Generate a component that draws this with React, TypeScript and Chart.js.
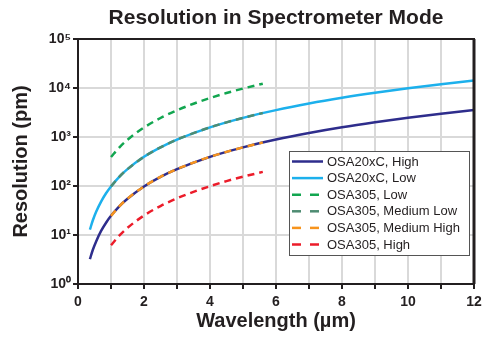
import React, { useEffect, useRef } from "react";
import { Chart, registerables } from "chart.js";

Chart.register(...registerables);

const titleText = "Resolution in Spectrometer Mode";
const xTitle = "Wavelength (µm)";
const yTitle = "Resolution (pm)";

const xTickValues = [0, 1, 2, 3, 4, 5, 6, 7, 8, 9, 10, 11, 12];
const yTickValues = [1, 10, 100, 1000, 10000, 100000];
const supDigits = ["⁰", "¹", "²", "³", "⁴", "⁵"];

// OSA20xC wavelengths (µm)
const w20 = [0.36, 0.45, 0.55, 0.7, 0.85, 1, 1.25, 1.5, 2, 2.5, 3, 4, 5, 6, 7, 8, 9, 10, 11, 12];
const osa20High = [3.2, 5.0, 7.4, 12.1, 17.8, 24.6, 38.4, 55, 98, 154, 221, 394, 615, 886, 1205, 1575, 1990, 2460, 2980, 3540];
const osa20Low = [12.8, 20, 29.8, 48, 71, 98, 154, 221, 394, 615, 886, 1575, 2460, 3540, 4820, 6300, 7970, 9840, 11900, 14170];

// OSA305 wavelengths (µm)
const w305 = [1, 1.25, 1.5, 2, 2.5, 3, 3.5, 4, 4.5, 5, 5.6];
const osa305Low = [390, 610, 878, 1560, 2440, 3510, 4780, 6240, 7900, 9750, 12230];
const osa305MedLow = [98, 154, 221, 394, 615, 886, 1200, 1575, 1990, 2460, 3090];
const osa305MedHigh = [24.6, 38.4, 55, 98, 154, 221, 301, 394, 498, 615, 771];
const osa305High = [6.2, 9.7, 14, 25, 39, 56, 76, 99, 126, 155, 194];

const seriesLabels = [
  "OSA20xC, High",
  "OSA20xC, Low",
  "OSA305, Low",
  "OSA305, Medium Low",
  "OSA305, Medium High",
  "OSA305, High",
];
const seriesColors = ["#2e2d8c", "#1cb0ec", "#12a650", "#4e8c72", "#f7941d", "#ec1c2a"];
const seriesDashed = [false, false, true, true, true, true];

const FONT = "'Liberation Sans', Arial, Helvetica, sans-serif";
const TEXT = "#231f20";

function pts(xs: number[], ys: number[]) {
  return xs.map((x, i) => ({ x, y: ys[i] }));
}

const framePlugin = {
  id: "frameAndLegend",
  afterDatasetsDraw(chart: any) {
    const { ctx, chartArea } = chart;
    const { left, right, top, bottom } = chartArea;
    ctx.save();
    ctx.strokeStyle = "#231f20";
    ctx.lineWidth = 2;
    ctx.setLineDash([]);
    ctx.strokeRect(left, top, right - left, bottom - top);
    ctx.lineWidth = 3;
    ctx.beginPath();
    ctx.moveTo(right, top);
    ctx.lineTo(right, bottom);
    ctx.stroke();

    // legend box
    const bx = 289, by = 151, bw = 180, bh = 104;
    ctx.fillStyle = "#ffffff";
    ctx.fillRect(bx, by, bw, bh);
    ctx.strokeStyle = "#555555";
    ctx.lineWidth = 1;
    ctx.strokeRect(bx + 0.5, by + 0.5, bw, bh);
    ctx.font = `13px ${FONT}`;
    ctx.textBaseline = "middle";
    ctx.textAlign = "left";
    chart.data.datasets.forEach((ds: any, i: number) => {
      const y = by + 10.5 + i * 16.6;
      const dashed = ds.borderDash && ds.borderDash.length;
      ctx.strokeStyle = ds.borderColor;
      ctx.lineWidth = 2.5;
      ctx.setLineDash(dashed ? [9, 9] : []);
      ctx.beginPath();
      ctx.moveTo(292, y);
      ctx.lineTo(dashed ? 319 : 323, y);
      ctx.stroke();
      ctx.setLineDash([]);
      ctx.fillStyle = TEXT;
      ctx.fillText(ds.label, 327, y + 0.5);
    });
    ctx.restore();
  },
};

export default function App() {
  const ref = useRef<HTMLCanvasElement | null>(null);
  useEffect(() => {
    if (!ref.current) return;
    const xsList = [w20, w20, w305, w305, w305, w305];
    const ysList = [osa20High, osa20Low, osa305Low, osa305MedLow, osa305MedHigh, osa305High];
    const datasets = seriesLabels.map((label, i) => ({
      label,
      data: pts(xsList[i], ysList[i]),
      borderColor: seriesColors[i],
      backgroundColor: seriesColors[i],
      borderWidth: 2.5,
      borderDash: seriesDashed[i] ? [7, 5] : [],
      pointRadius: 0,
      fill: false,
      cubicInterpolationMode: "monotone" as const,
      order: seriesDashed[i] ? 0 : 1,
    }));
    const chart = new Chart(ref.current, {
      type: "line",
      data: { datasets },
      options: {
        animation: false,
        responsive: false,
        devicePixelRatio: 1,
        layout: { padding: { left: 0, right: 10, top: 0, bottom: 0 } },
        plugins: {
          legend: { display: false },
          tooltip: { enabled: false },
          title: {
            display: true,
            text: titleText,
            fullSize: false,
            color: TEXT,
            font: { family: FONT, size: 21, weight: "bold", lineHeight: 1.2 },
            padding: { top: 5.5, bottom: 8.3 },
          },
        },
        scales: {
          x: {
            type: "linear",
            min: 0,
            max: 12,
            afterBuildTicks: (scale: any) => {
              scale.ticks = xTickValues.map((v) => ({ value: v }));
            },
            afterFit: (scale: any) => {
              scale.height = 53;
              scale.paddingRight = 0;
              scale.paddingLeft = 0;
            },
            ticks: {
              autoSkip: false,
              maxRotation: 0,
              padding: 5,
              color: TEXT,
              font: { family: FONT, size: 14, weight: "bold" },
              callback: (v: any) => (Number(v) % 2 === 0 ? String(v) : ""),
            },
            grid: {
              color: "#d9d9d9",
              lineWidth: 2,
              tickColor: "#231f20",
              tickWidth: 2,
              tickLength: 5,
            },
            border: { display: true, color: "#231f20", width: 2 },
            title: {
              display: true,
              text: xTitle,
              color: TEXT,
              font: { family: FONT, size: 20, weight: "bold", lineHeight: 1.2 },
              padding: { top: 0, bottom: 4 },
            },
          },
          y: {
            type: "logarithmic",
            min: 1,
            max: 100000,
            afterBuildTicks: (scale: any) => {
              scale.ticks = yTickValues.map((v) => ({ value: v }));
            },
            afterFit: (scale: any) => {
              scale.width = 78;
            },
            ticks: {
              autoSkip: false,
              padding: 2,
              color: TEXT,
              font: { family: FONT, size: 14, weight: "bold" },
              callback: (v: any) => {
                const e = Math.round(Math.log10(Number(v)));
                return "10" + supDigits[e];
              },
            },
            grid: {
              color: "#d9d9d9",
              lineWidth: 2,
              tickColor: "#231f20",
              tickWidth: 2,
              tickLength: 5,
            },
            border: { display: true, color: "#231f20", width: 2 },
            title: {
              display: true,
              text: yTitle,
              color: TEXT,
              font: { family: FONT, size: 20, weight: "bold", lineHeight: 1.2 },
              padding: { top: 9, bottom: 0 },
            },
          },
        },
      },
      plugins: [framePlugin],
    });
    return () => chart.destroy();
  }, []);
  return (
    <div style={{ position: "fixed", left: 0, top: 0, width: 484, height: 337, background: "#fff" }}>
      <canvas ref={ref} width={484} height={337} style={{ display: "block" }} />
    </div>
  );
}
